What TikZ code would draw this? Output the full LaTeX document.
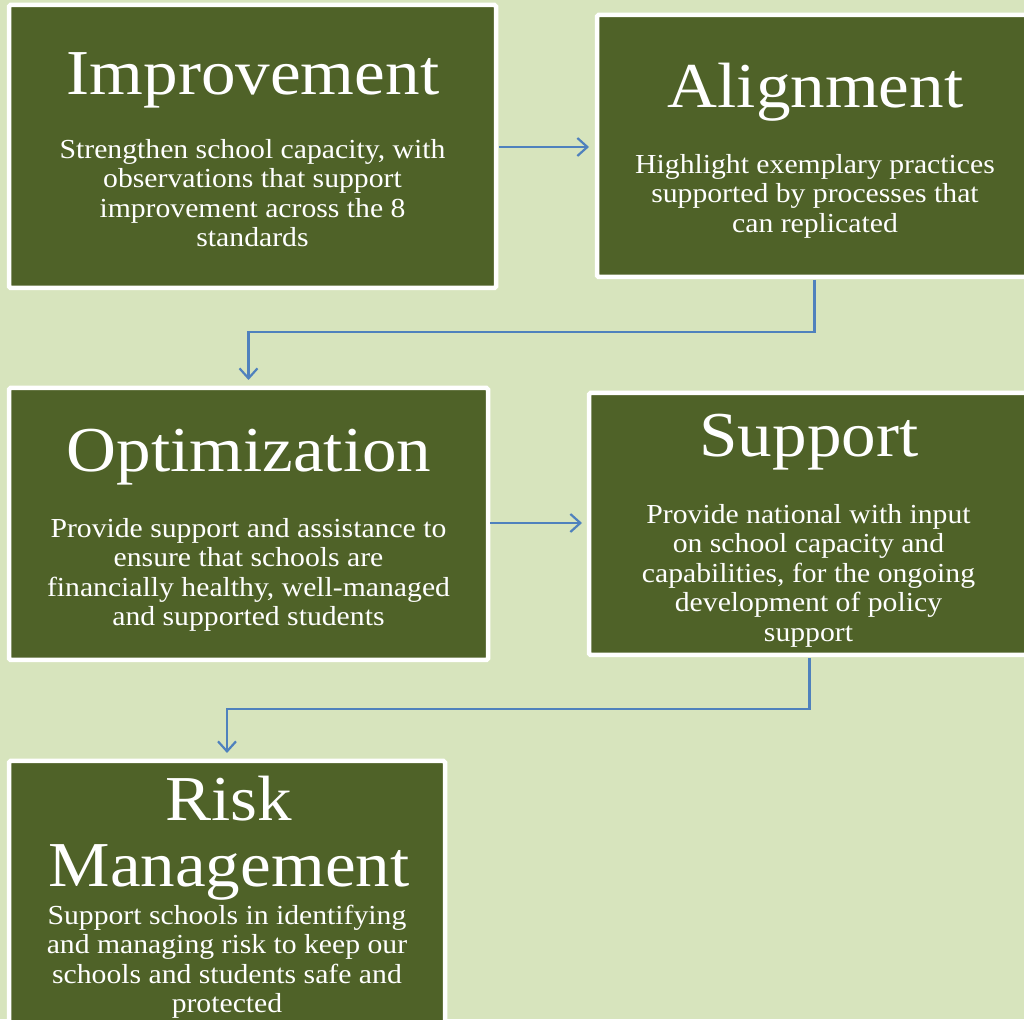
\documentclass[tikz,border=0pt]{standalone}
\usepackage{fontspec}
\setmainfont{Liberation Serif}[FakeStretch=1.08]
\usetikzlibrary{arrows.meta}
\definecolor{bg}{HTML}{D7E4BD}
\definecolor{boxg}{HTML}{4F6228}
\definecolor{arrb}{HTML}{4F81BD}
\begin{document}
\begin{tikzpicture}[x=1pt,y=1pt,
  boxnode/.style={draw=white, line width=4.5pt, fill=boxg, rounded corners=1.5pt,
    inner sep=0pt, outer sep=0pt},
  titletext/.style={text=white, font=\fontsize{64}{66}\selectfont, inner sep=0pt, anchor=base},
  bodytext/.style={text=white, font=\fontsize{27.5}{29.5}\selectfont, inner sep=0pt,
    anchor=north, align=center},
  conn/.style={draw=arrb, line width=2.2pt, -{Straight Barb[length=10pt,width=18pt,line width=2.2pt]}}
]
\useasboundingbox (0,0) rectangle (1024,1019);
\clip (0,0) rectangle (1024,1019);
\fill[bg] (0,0) rectangle (1024,1019);

% boxes
\node[boxnode, minimum width=487pt, minimum height=283pt] (b1) at (252.5,872.5) {};
\node[boxnode, minimum width=435pt, minimum height=262pt] (b2) at (814.5,873) {};
\node[boxnode, minimum width=479pt, minimum height=272pt] (b3) at (248.5,495) {};
\node[boxnode, minimum width=441pt, minimum height=262pt] (b4) at (809.5,495) {};
\node[boxnode, minimum width=436pt, minimum height=268pt] (b5) at (227,124) {};

% titles
\node[titletext] (t1) at (253,924) {Improvement};
\node[titletext] (t2) at (815.5,911) {Alignment};
\node[titletext] (t3) at (249,547) {Optimization};
\node[titletext] (t4) at (809,562) {Support};
\node[titletext] (t5) at (229,198) {Risk};
\node[titletext] (t5b) at (229,132) {Management};

% bodies (first baseline = y - 20)
\node[bodytext] (d1) at (252.5,881) {\rule{0pt}{20pt}Strengthen school capacity, with\\observations that support\\improvement across the 8\\standards};
\node[bodytext] (d2) at (815,866) {\rule{0pt}{20pt}Highlight exemplary practices\\supported by processes that\\can replicated};
\node[bodytext] (d3) at (248.5,502) {\rule{0pt}{20pt}Provide support and assistance to\\ensure that schools are\\financially healthy, well-managed\\and supported students};
\node[bodytext] (d4) at (808.5,516) {\rule{0pt}{20pt}Provide national with input\\on school capacity and\\capabilities, for the ongoing\\development of policy\\support};
\node[bodytext] (d5) at (227,115) {\rule{0pt}{20pt}Support schools in identifying\\and managing risk to keep our\\schools and students safe and\\protected};

% connectors
\coordinate (k1) at (814.5,687);
\coordinate (k2) at (248.5,687);
\coordinate (k3) at (809.5,310);
\coordinate (k4) at (227,310);
\draw[conn, shorten <=3pt, shorten >=8pt] (b1.east |- 0,872) -- (b2.west |- 0,872);
\draw[conn, shorten >=8pt] ([yshift=-3pt]b2.south) -- (k1) -- (k2) -- (b3.north);
\draw[conn, shorten <=2pt, shorten >=7pt] (b3.east |- 0,496) -- (b4.west |- 0,496);
\draw[conn, shorten >=8pt] ([yshift=-3pt]b4.south) -- (k3) -- (k4) -- (b5.north);
\end{tikzpicture}
\end{document}
